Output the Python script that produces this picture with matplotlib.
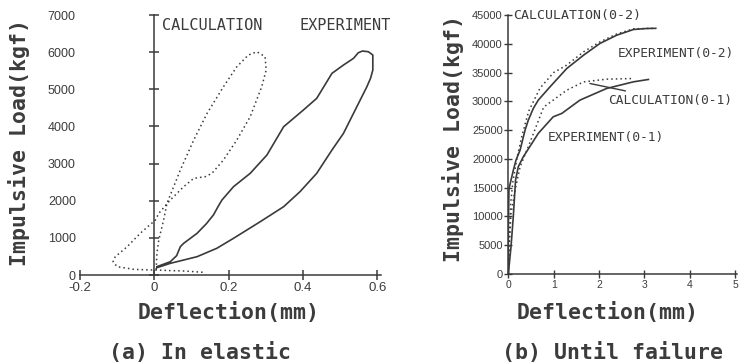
import matplotlib
matplotlib.use("Agg")
import matplotlib.pyplot as plt

# ---------------- data : (a) In elastic ----------------
a_exp_x = [0.007, 0.043, 0.060, 0.070, 0.079, 0.115, 0.140, 0.159, 0.172, 0.182, 0.213, 0.258, 0.303,
           0.348, 0.401, 0.437, 0.478, 0.509, 0.536, 0.549, 0.560, 0.576, 0.588, 0.588, 0.582, 0.572,
           0.545, 0.509, 0.478, 0.437, 0.392, 0.348, 0.285, 0.213, 0.168, 0.115, 0.043, 0.007]
a_exp_y = [224, 358, 520, 762, 853, 1122, 1380, 1615, 1850, 2019, 2377, 2737, 3230,
           3992, 4441, 4756, 5429, 5653, 5833, 5984, 6030, 6011, 5922, 5518, 5300, 5069,
           4531, 3813, 3365, 2737, 2243, 1839, 1435, 987, 718, 493, 314, 197]

a_calc_x = [0.005, 0.007, 0.012, 0.025, 0.034, 0.070, 0.106, 0.142, 0.186, 0.222, 0.253, 0.276,
            0.298, 0.301, 0.289, 0.258, 0.222, 0.186, 0.155, 0.137, 0.106, 0.079, 0.043, 0.012,
            0.003, -0.038, -0.073, -0.105, -0.111, -0.100, -0.055, -0.011, 0.003, 0.040, 0.079, 0.133]
a_calc_y = [150, 583, 942, 1480, 1929, 2826, 3634, 4352, 5069, 5607, 5922, 6011,
            5877, 5518, 5069, 4262, 3634, 3096, 2737, 2647, 2602, 2377, 2019, 1660,
            1480, 1122, 762, 493, 358, 224, 152, 135, 135, 120, 108, 72]

a_xticks = [-0.2, 0, 0.2, 0.4, 0.6]
a_xticklabels = ["-0.2", "0", "0.2", "0.4", "0.6"]
a_yticks = [0, 1000, 2000, 3000, 4000, 5000, 6000, 7000]

# ---------------- data : (b) Until failure ----------------
b_exp1_x = [0, 0.06, 0.11, 0.16, 0.22, 0.33, 0.52, 0.66, 0.99, 1.18, 1.58, 2.17, 2.76, 3.09]
b_exp1_y = [0, 4740, 9950, 16320, 18630, 20360, 22690, 24420, 27310, 27900, 30210, 32240, 33390, 33800]

b_calc1_x = [0, 0.02, 0.06, 0.15, 0.26, 0.44, 0.78, 1.29, 1.66, 2.17, 2.76]
b_calc1_y = [0, 5000, 10500, 14580, 18630, 22100, 29000, 31940, 33380, 33850, 33970]

b_exp2_x = [0, 0.0, 0.015, 0.11, 0.17, 0.26, 0.37, 0.44, 0.55, 0.66, 0.92, 1.29, 1.66, 2.02,
            2.39, 2.76, 3.06, 3.24]
b_exp2_y = [0, 8000, 14800, 18000, 19790, 21530, 25000, 26700, 28750, 30200, 32520, 35710, 38020, 40050,
            41490, 42480, 42660, 42680]

b_calc2_x = [0, 0.02, 0.05, 0.10, 0.20, 0.30, 0.45, 0.70, 1.00, 1.29, 1.66, 2.02, 2.39, 2.76, 3.27]
b_calc2_y = [0, 5000, 12000, 16000, 20500, 24000, 28300, 32300, 35000, 36300, 38600, 40330, 41700, 42600, 42700]

b_xticks = [0, 1, 2, 3, 4, 5]
b_yticks = [0, 5000, 10000, 15000, 20000, 25000, 30000, 35000, 40000, 45000]

INK = "#3a3a3a"
TXT = "#3c3c3c"
NARROW = ["Liberation Sans", "DejaVu Sans"]
MONO = ["DejaVu Sans Mono"]
DOT = (0, (1, 2))

fig = plt.figure(figsize=(7.46, 3.63), dpi=100)
W, H = 746.0, 363.0

# ---------------- panel (a) ----------------
axa = fig.add_axes([80 / W, 88 / H, 301 / W, 260 / H])
axa.plot(a_exp_x, a_exp_y, color=INK, lw=1.2)
axa.plot(a_calc_x, a_calc_y, color=INK, lw=1.1, ls=DOT)
axa.set_xlim(-0.2, 0.61)
axa.set_ylim(0, 7000)
for s in ("top", "right", "left"):
    axa.spines[s].set_visible(False)
axa.spines["bottom"].set_color(INK)
axa.spines["bottom"].set_linewidth(1.1)
axa.set_xticks(a_xticks)
axa.set_xticklabels(a_xticklabels)
axa.set_yticks(a_yticks)
axa.tick_params(axis="y", length=0, pad=3, labelsize=9, labelcolor=TXT)
axa.tick_params(axis="x", direction="inout", length=7, width=1.1, color=INK, pad=1.5,
                labelsize=9.5, labelcolor=TXT)
for lab in axa.get_xticklabels() + axa.get_yticklabels():
    lab.set_family(NARROW)
sec = axa.secondary_yaxis(0, transform=axa.transData)
sec.set_yticks(a_yticks)
sec.tick_params(labelleft=False, direction="inout", length=7, width=1.1, color=INK)
sec.spines["left"].set_color(INK)
sec.spines["left"].set_linewidth(1.1)

axa.text(0.0215, 6730, "CALCULATION", family=MONO, fontsize=11, color=TXT, va="center", ha="left")
axa.text(0.392, 6730, "EXPERIMENT", family=MONO, fontsize=11, color=TXT, va="center", ha="left")

# ---------------- panel (b) ----------------
axb = fig.add_axes([508.3 / W, 89 / H, 229 / W, 259 / H])
axb.plot(b_exp2_x, b_exp2_y, color=INK, lw=1.2)
axb.plot(b_calc2_x, b_calc2_y, color=INK, lw=1.1, ls=DOT)
axb.plot(b_exp1_x, b_exp1_y, color=INK, lw=1.2)
axb.plot(b_calc1_x, b_calc1_y, color=INK, lw=1.1, ls=DOT)
axb.set_xlim(0, 5.05)
axb.set_ylim(0, 45000)
for s in ("top", "right"):
    axb.spines[s].set_visible(False)
for s in ("left", "bottom"):
    axb.spines[s].set_color(INK)
    axb.spines[s].set_linewidth(1.1)
axb.set_xticks(b_xticks)
axb.set_yticks(b_yticks)
axb.tick_params(axis="both", direction="inout", length=6, width=1.0, color=INK, labelcolor=TXT)
axb.tick_params(axis="y", pad=1, labelsize=8)
axb.tick_params(axis="x", pad=1.5, labelsize=7.5)
for lab in axb.get_xticklabels() + axb.get_yticklabels():
    lab.set_family(NARROW)

axb.text(0.10, 44970, "CALCULATION(0-2)", family=MONO, fontsize=9.5, color=TXT, va="center", ha="left")
axb.text(2.42, 38310, "EXPERIMENT(0-2)", family=MONO, fontsize=9.3, color=TXT, va="center", ha="left")
axb.text(0.88, 23780, "EXPERIMENT(0-1)", family=MONO, fontsize=9.3, color=TXT, va="center", ha="left")
axb.annotate("CALCULATION(0-1)", xy=(1.80, 33100), xytext=(2.2, 30200), family=MONO,
             fontsize=9.3, color=TXT, va="center", ha="left",
             arrowprops=dict(arrowstyle="-", color=INK, lw=1.0, shrinkA=0, shrinkB=0))

# ---------------- labels ----------------
lab_kw = dict(family=MONO, fontweight="bold", color=TXT)
fig.text(19.5 / W, 1 - 142 / H, "Impulsive Load(kgf)", rotation=90, ha="center", va="center",
         fontsize=15.5, **lab_kw)
fig.text(453 / W, 1 - 138 / H, "Impulsive Load(kgf)", rotation=90, ha="center", va="center",
         fontsize=15.5, **lab_kw)
fig.text(228.5 / W, 1 - 313 / H, "Deflection(mm)", ha="center", va="center", fontsize=15.5, **lab_kw)
fig.text(608 / W, 1 - 313 / H, "Deflection(mm)", ha="center", va="center", fontsize=15.5, **lab_kw)
fig.text(200 / W, 1 - 353 / H, "(a) In elastic", ha="center", va="center", fontsize=15.5, **lab_kw)
fig.text(613 / W, 1 - 353 / H, "(b) Until failure", ha="center", va="center", fontsize=15.5, **lab_kw)

fig.savefig("out.png", dpi=100, facecolor="white")
